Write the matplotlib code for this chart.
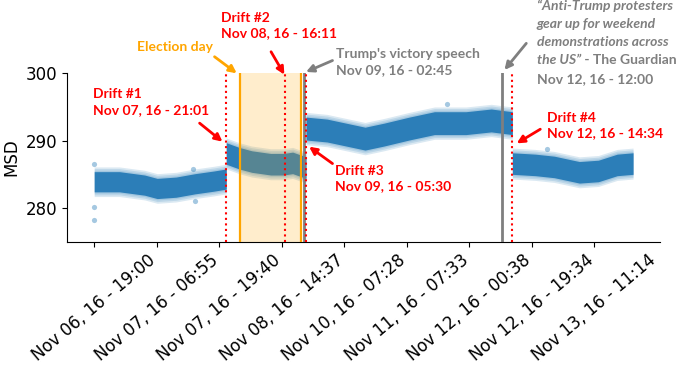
import matplotlib.pyplot as plt
import numpy as np

# x axis is the sample index of the MSD stream, one tick label every 1000 samples
tick_idx = [0, 1000, 2000, 3000, 4000, 5000, 6000, 7000, 8000]
tick_labels = ['Nov 06, 16 - 19:00', 'Nov 07, 16 - 06:55', 'Nov 07, 16 - 19:40',
               'Nov 08, 16 - 14:37', 'Nov 10, 16 - 07:28', 'Nov 11, 16 - 07:33',
               'Nov 12, 16 - 00:38', 'Nov 12, 16 - 19:34', 'Nov 13, 16 - 11:14']

seg_idx = [
    [0, 404, 807, 1008, 1311, 1612, 1915, 2112],
    [2112, 2319, 2520, 2823, 3026, 3175, 3388],
    [3388, 3727, 4030, 4333, 4636, 5040, 5443, 5947, 6351, 6689],
    [6689, 7056, 7359, 7762, 8065, 8367, 8620],
]
seg_msd = [
    [283.9, 283.9, 283.4, 282.9, 283.1, 283.6, 284.0, 284.3],
    [288.1, 287.4, 286.9, 286.5, 286.5, 286.7, 286.0],
    [291.8, 291.5, 290.9, 290.3, 290.9, 291.8, 292.6, 292.6, 293.0, 292.6],
    [286.6, 286.4, 286.1, 285.3, 285.5, 286.4, 286.6],
]
seg_spread = [1.5, 1.6, 1.7, 1.6]

# a few stray points outside the cloud
outlier_idx = [0, 0, 0, 1574, 1606, 5641, 7236]
outlier_msd = [286.6, 280.1, 278.2, 285.8, 281.0, 295.5, 288.8]

# events (sample index)
drift_idx = [2112, 3057, 3388, 6689]
election_span = [2335, 3308]
speech_idx = 3352
guardian_idx = 6523

blue = '#1f77b4'
red = '#ff0000'
orange = '#ffa500'
gray = '#7f7f7f'
ann_font = 'Lato'

fig = plt.figure(figsize=(6.85, 3.71), dpi=100)
ax = fig.add_axes([0.0982, 0.3485, 0.8653, 0.4539])

# soft edges: a few thin translucent layers round a solid core
for xs, ys, s in zip(seg_idx, seg_msd, seg_spread):
    ys = np.array(ys)
    for extra in [0.7, 0.45, 0.2]:
        ax.fill_between(xs, ys - s - extra, ys + s + extra, color=blue, alpha=0.16, lw=0)
    ax.fill_between(xs, ys - s, ys + s, color=blue, alpha=0.9, lw=0)
ax.scatter(outlier_idx, outlier_msd, s=14, color=blue, alpha=0.4, lw=0)

# election day shading sits on top of the data
ax.axvspan(election_span[0], election_span[1], color=orange, alpha=0.2, lw=0, zorder=3)
for x in election_span:
    ax.axvline(x, color=orange, lw=1.6, zorder=4)
ax.axvline(speech_idx, color=gray, lw=2, zorder=4)
ax.axvline(guardian_idx, color=gray, lw=2, zorder=4)
for x in drift_idx:
    ax.axvline(x, color=red, ls=':', lw=1.5, zorder=5)

ax.set_xlim(-0.05 * seg_idx[-1][-1], 1.05 * seg_idx[-1][-1])
ax.set_ylim(275, 300)
ax.set_yticks([280, 290, 300])
ax.set_xticks(tick_idx)
ax.set_xticklabels(tick_labels, rotation=40, ha='center')
ax.tick_params(labelsize=12)
ax.set_ylabel('MSD', fontsize=12)
ax.spines['top'].set_visible(False)
ax.spines['right'].set_visible(False)


def note(text, xy_text, tail, tip, color, **kw):
    ax.text(xy_text[0], xy_text[1], text, color=color, fontsize=10, fontweight='bold',
            family=ann_font, linespacing=1.35, clip_on=False, **kw)
    ax.annotate('', xy=tip, xytext=tail, annotation_clip=False,
                arrowprops=dict(arrowstyle='-|>', color=color, lw=2, mutation_scale=11,
                                shrinkA=0, shrinkB=0))


note('Election day', (1295, 303.95), (1925, 302.46), (election_span[0] - 55, 300.0),
     orange, ha='center', va='center')
note('Drift #2\nNov 08, 16 - 16:11', (2024, 309.1), (2829, 303.2), (drift_idx[1] - 15, 299.8),
     red, ha='left', va='top')
note('Drift #1\nNov 07, 16 - 21:01', (-16, 297.8), (1686, 292.6), (drift_idx[0] - 60, 289.85),
     red, ha='left', va='top')
note("Trump's victory speech\nNov 09, 16 - 02:45", (3866, 303.7), (3812, 301.9), (drift_idx[2], 300.2),
     gray, ha='left', va='top')
note('Drift #3\nNov 09, 16 - 05:30', (3855, 286.4), (3812, 286.6), (drift_idx[2] + 50, 289.1),
     red, ha='left', va='top')
note('Drift #4\nNov 12, 16 - 14:34', (7241, 294.3), (7136, 291.7), (drift_idx[3] + 70, 289.6),
     red, ha='left', va='top')

# Guardian quote: italic quote, upright source
g_x, g_top, g_step = 7082, 310.9, 2.7
quote_lines = ['\u201cAnti-Trump protesters', 'gear up for weekend',
               'demonstrations across', 'the US\u201d']
last = None
for i, line in enumerate(quote_lines):
    last = ax.text(g_x, g_top - i * g_step, line, color=gray, fontsize=10, fontweight='bold',
                   style='italic', family=ann_font, ha='left', va='top', clip_on=False)
ax.annotate(' - The Guardian', xy=(1, 0), xycoords=last, ha='left', va='bottom',
            color=gray, fontsize=10, fontweight='bold', family=ann_font)
ax.text(g_x, g_top - 4 * g_step, 'Nov 12, 16 - 12:00', color=gray, fontsize=10,
        fontweight='bold', family=ann_font, ha='left', va='top', clip_on=False)
ax.annotate('', xy=(guardian_idx + 40, 300.5), xytext=(6912, 304.45), annotation_clip=False,
            arrowprops=dict(arrowstyle='-|>', color=gray, lw=2, mutation_scale=11,
                            shrinkA=0, shrinkB=0))

fig.savefig('out.png', dpi=100)
